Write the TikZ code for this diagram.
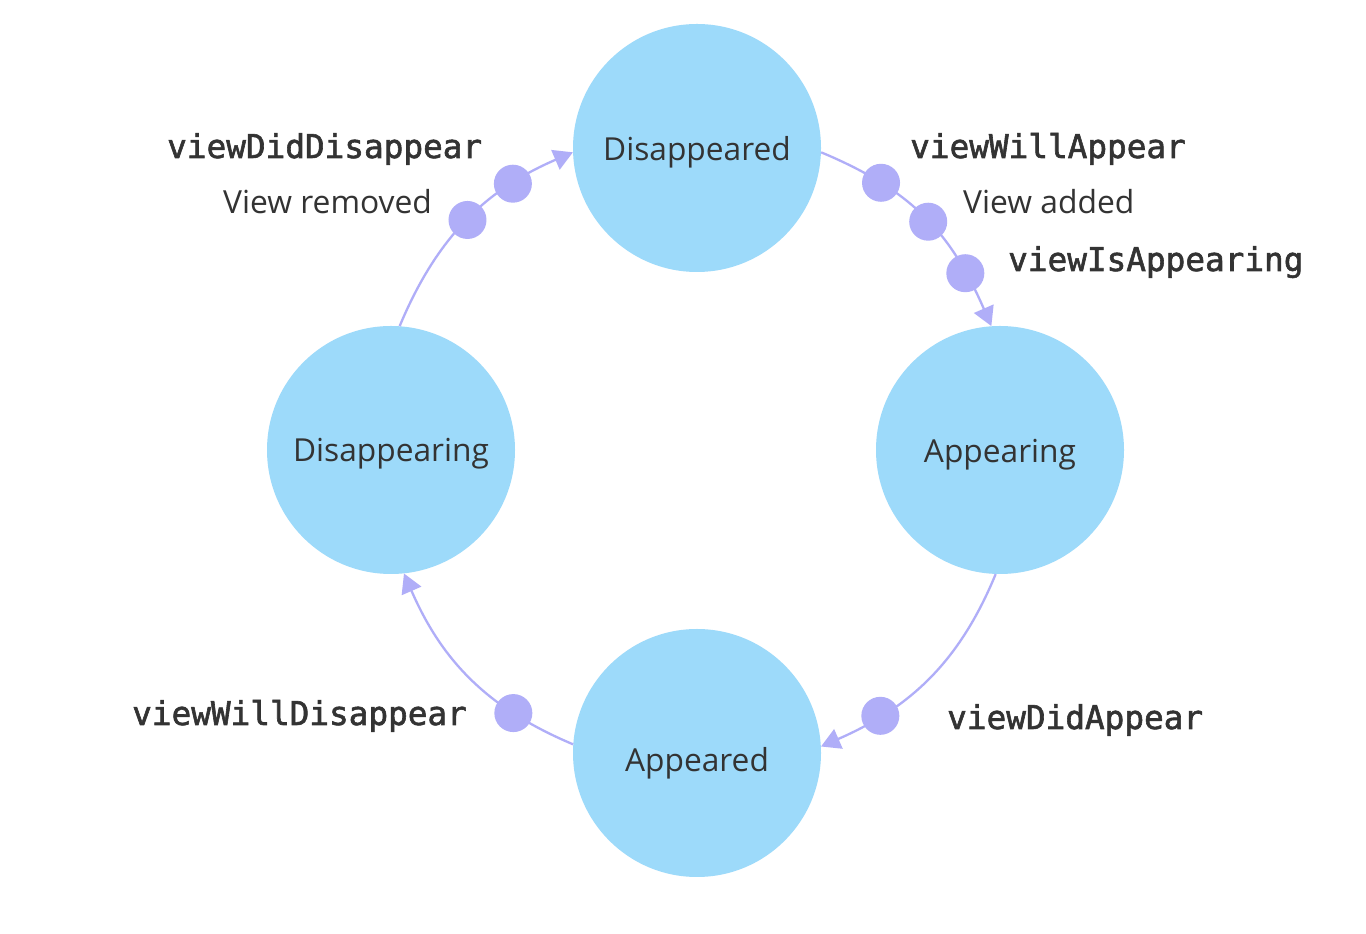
\documentclass[tikz,border=0pt]{standalone}
\usepackage{fontspec}
\setmainfont{Open Sans}
\newfontfamily\monof[FakeBold=1.8]{DejaVu Sans Mono}
\usetikzlibrary{arrows.meta}
\definecolor{stateblue}{HTML}{9DDAFA}
\definecolor{lav}{HTML}{B0AEF8}
\definecolor{ink}{HTML}{333333}
\begin{document}
\begin{tikzpicture}[x=1pt,y=1pt,
 state/.style={circle, fill=stateblue, minimum size=248pt, inner sep=0pt, text=ink, font=\fontsize{31.7}{36}\selectfont, text depth=0pt, text height=26pt},
 dot/.style={circle, fill=lav, minimum size=38pt, inner sep=0pt},
 flow/.style={draw=lav, line width=2.3pt, -{Triangle[length=19pt,width=21pt]}, looseness=1.0},
 mono/.style={font=\fontsize{32.7}{36}\selectfont\monof, text=ink, anchor=base west, inner sep=0pt},
 note/.style={font=\fontsize{31.8}{36}\selectfont, text=ink, anchor=base west, inner sep=0pt}]
\useasboundingbox (0,0) rectangle (1366,934);
\fill[white] (0,0) rectangle (1366,934);

\node[state] (dis)  at (697,786) {Disappeared};
\node[state] (app)  at (1000,484) {Appearing};
\node[state, text height=24pt] (disg) at (391,484) {Disappearing};
\node[state, text height=38pt] (apd)  at (697,181) {Appeared};

\draw[flow, looseness=1.05] (dis.-2) to[out=-22.6,in=113.5]
  node[dot,pos=0.25] (d1) {} node[dot,pos=0.515] (d2) {} node[dot,pos=0.785] (d3) {} (app.94);
\draw[flow] (app.-92) to[out=-112.4,in=23.6]
  node[dot,pos=0.75] (d4) {} (apd.3.5);
\draw[flow] (apd.176) to[out=157.2,in=-66.5]
  node[dot,pos=0.26] (d5) {} (disg.-84.6);
\draw[flow] (disg.86) to[out=67.3,in=203.3]
  node[dot,pos=0.502] (d6) {} node[dot,pos=0.745] (d7) {} (dis.182);

\node[mono] (l1) at (167,776) {viewDidDisappear};
\node[note] (l2) at (223,720) {View removed};
\node[mono] (l3) at (910,776) {viewWillAppear};
\node[note] (l4) at (963,720) {View added};
\node[mono] (l5) at (1008,663) {viewIsAppearing};
\node[mono] (l6) at (947,205) {viewDidAppear};
\node[mono] (l7) at (132,209) {viewWillDisappear};
\end{tikzpicture}
\end{document}
